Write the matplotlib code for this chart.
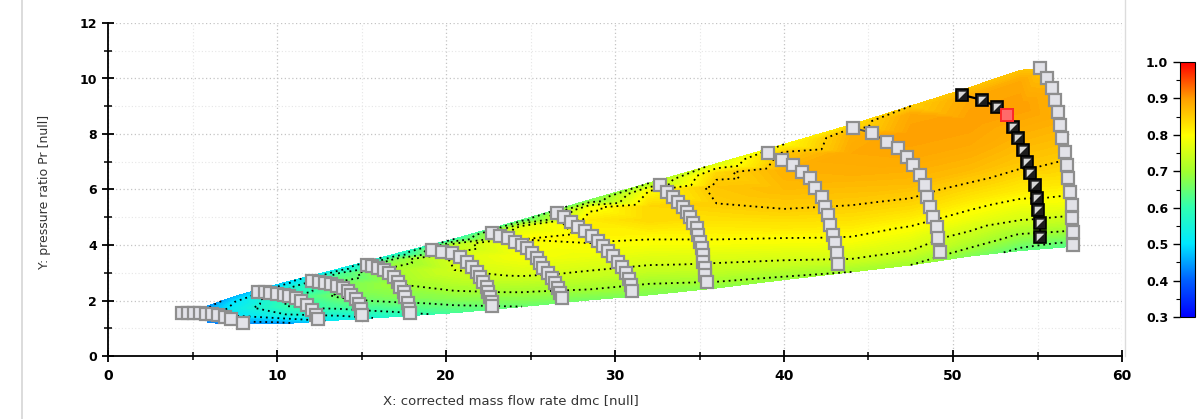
import numpy as np
import matplotlib
matplotlib.use("Agg")
import matplotlib.pyplot as plt
from matplotlib.colors import LinearSegmentedColormap, Normalize
from matplotlib.tri import Triangulation
from matplotlib.path import Path
from matplotlib.lines import Line2D
import matplotlib.colorbar as mcolorbar

# ---------------- speed lines (corrected mass flow, pressure ratio) ----------------
speed_x = [
    [4.4, 4.75, 5.1, 5.45, 5.8, 6.15, 6.5, 6.9, 7.3, 8.0],
    [8.9, 9.3, 9.6, 10.0, 10.4, 10.7, 11.1, 11.4, 11.8, 12.1, 12.3, 12.4],
    [12.1, 12.5, 12.85, 13.2, 13.55, 13.9, 14.2, 14.4, 14.65, 14.85, 14.95, 15.0],
    [15.3, 15.6, 16.0, 16.35, 16.6, 16.9, 17.15, 17.3, 17.5, 17.6, 17.75, 17.8, 17.85],
    [19.17, 19.76, 20.36, 20.83, 21.24, 21.54, 21.83, 22.01, 22.19, 22.43, 22.49, 22.6, 22.72, 22.72],
    [22.72, 23.2, 23.67, 24.08, 24.5, 24.79, 25.09, 25.38, 25.56, 25.74, 26.04, 26.27, 26.45, 26.63, 26.75, 26.86],
    [26.57, 26.98, 27.4, 27.81, 28.22, 28.64, 28.99, 29.29, 29.59, 29.88, 30.18, 30.41, 30.65, 30.83, 30.95, 31.01],
    [32.66, 33.08, 33.43, 33.73, 34.02, 34.26, 34.44, 34.62, 34.85, 34.91, 35.03, 35.15, 35.21, 35.21, 35.33, 35.33, 35.44],
    [39.05, 39.88, 40.53, 41.07, 41.54, 41.83, 42.25, 42.43, 42.6, 42.72, 42.9, 43.02, 43.14, 43.2],
    [44.08, 45.21, 46.09, 46.75, 47.28, 47.63, 48.05, 48.34, 48.46, 48.64, 48.82, 49.05, 49.11, 49.23],
    [50.53, 51.72, 52.6, 53.2, 53.55, 53.85, 54.14, 54.38, 54.56, 54.85, 54.97, 55.03, 55.15, 55.15],
    [55.15, 55.56, 55.86, 56.04, 56.21, 56.33, 56.45, 56.63, 56.75, 56.8, 56.92, 57.04, 57.04, 57.1, 57.1],
]
speed_y = [
    [1.55, 1.55, 1.55, 1.55, 1.53, 1.50, 1.47, 1.42, 1.35, 1.20],
    [2.31, 2.31, 2.27, 2.23, 2.20, 2.16, 2.09, 1.98, 1.84, 1.66, 1.48, 1.33],
    [2.70, 2.67, 2.63, 2.60, 2.52, 2.45, 2.34, 2.20, 2.05, 1.87, 1.69, 1.48],
    [3.28, 3.24, 3.17, 3.10, 2.99, 2.85, 2.67, 2.49, 2.31, 2.13, 1.91, 1.69, 1.55],
    [3.82, 3.75, 3.71, 3.57, 3.39, 3.21, 3.03, 2.85, 2.67, 2.49, 2.31, 2.13, 1.95, 1.80],
    [4.43, 4.32, 4.25, 4.11, 4.00, 3.89, 3.71, 3.53, 3.35, 3.17, 2.99, 2.81, 2.63, 2.45, 2.27, 2.09],
    [5.15, 5.01, 4.83, 4.65, 4.50, 4.32, 4.14, 3.96, 3.78, 3.60, 3.39, 3.21, 2.99, 2.77, 2.56, 2.34],
    [6.16, 5.91, 5.73, 5.55, 5.37, 5.19, 5.01, 4.80, 4.61, 4.36, 4.11, 3.89, 3.64, 3.39, 3.17, 2.92, 2.67],
    [7.32, 7.06, 6.88, 6.63, 6.41, 6.05, 5.73, 5.37, 5.08, 4.72, 4.36, 4.07, 3.71, 3.32],
    [8.22, 8.04, 7.71, 7.50, 7.17, 6.88, 6.52, 6.16, 5.73, 5.37, 5.01, 4.65, 4.25, 3.75],
    [9.41, 9.23, 8.97, 8.68, 8.25, 7.86, 7.42, 6.99, 6.59, 6.16, 5.69, 5.26, 4.79, 4.29],
    [10.38, 10.02, 9.66, 9.23, 8.79, 8.32, 7.86, 7.35, 6.88, 6.41, 5.91, 5.44, 4.97, 4.47, 4.00],
]
selected_line = 10      # highlighted speed line
selected_point = 3      # highlighted operating point on it

# ---------------- isentropic efficiency field samples ----------------
field_col_x = [5.9, 7.5, 10.5, 13.7, 17.0, 20.5, 24.5, 28.5, 32.0, 36.0, 40.0, 44.0, 47.5, 51.0, 54.0]
field_col_y = [
    [1.80, 1.50, 1.20],
    [2.15, 1.95, 1.70, 1.45, 1.16],
    [2.66, 2.45, 2.10, 1.80, 1.50, 1.17],
    [3.15, 2.95, 2.60, 2.20, 1.80, 1.30],
    [3.68, 3.45, 3.10, 2.60, 2.10, 1.70, 1.42],
    [4.22, 4.00, 3.60, 3.10, 2.60, 2.10, 1.56],
    [4.91, 4.65, 4.20, 3.60, 3.00, 2.40, 1.78],
    [5.63, 5.35, 4.90, 4.30, 3.60, 2.90, 2.40, 2.02],
    [6.23, 5.95, 5.40, 4.90, 4.40, 3.80, 3.10, 2.60, 2.20],
    [6.93, 6.60, 6.10, 5.50, 4.90, 4.20, 3.50, 2.90, 2.45],
    [7.63, 7.30, 6.70, 6.00, 5.30, 4.60, 3.90, 3.30, 2.75],
    [8.34, 8.00, 7.30, 6.50, 5.70, 4.90, 4.10, 3.50, 3.03],
    [9.01, 8.70, 8.00, 7.10, 6.20, 5.30, 4.50, 3.80, 3.28],
    [9.68, 9.30, 8.50, 7.60, 6.70, 5.80, 4.90, 4.10, 3.60],
    [10.30, 9.90, 9.00, 8.00, 7.00, 6.00, 5.00, 4.30, 3.80],
]
field_col_eta = [
    [0.44, 0.48, 0.42],
    [0.46, 0.50, 0.52, 0.50, 0.43],
    [0.48, 0.54, 0.60, 0.60, 0.55, 0.44],
    [0.52, 0.62, 0.66, 0.66, 0.62, 0.52],
    [0.56, 0.68, 0.71, 0.70, 0.67, 0.62, 0.57],
    [0.60, 0.73, 0.76, 0.75, 0.72, 0.68, 0.62],
    [0.63, 0.77, 0.80, 0.79, 0.76, 0.71, 0.65],
    [0.66, 0.79, 0.82, 0.81, 0.78, 0.74, 0.70, 0.66],
    [0.70, 0.80, 0.84, 0.84, 0.81, 0.78, 0.74, 0.70, 0.67],
    [0.76, 0.84, 0.86, 0.85, 0.83, 0.80, 0.76, 0.72, 0.68],
    [0.80, 0.86, 0.88, 0.87, 0.85, 0.82, 0.78, 0.74, 0.69],
    [0.83, 0.88, 0.89, 0.88, 0.86, 0.83, 0.79, 0.75, 0.70],
    [0.85, 0.89, 0.90, 0.89, 0.87, 0.835, 0.79, 0.75, 0.70],
    [0.86, 0.89, 0.90, 0.89, 0.87, 0.83, 0.78, 0.72, 0.67],
    [0.86, 0.89, 0.90, 0.88, 0.86, 0.82, 0.76, 0.69, 0.64],
]
# choke-side edge of the field (along the last speed line)
edge_x = [55.2, 55.9, 56.3, 56.6, 56.8, 57.0, 57.05, 57.1]
edge_y = [10.35, 9.6, 8.4, 7.4, 6.4, 5.4, 4.6, 3.95]
edge_eta = [0.86, 0.88, 0.88, 0.86, 0.83, 0.78, 0.71, 0.63]

contour_levels = [0.45, 0.50, 0.55, 0.60, 0.65, 0.70, 0.75, 0.80, 0.85]
eta_min, eta_max = 0.3, 1.0

x_ticks = [0, 10, 20, 30, 40, 50, 60]
y_ticks = [0, 2, 4, 6, 8, 10, 12]
cbar_ticks = [0.3, 0.4, 0.5, 0.6, 0.7, 0.8, 0.9, 1.0]

# ---------------- figure ----------------
W, H = 1198, 419
fig = plt.figure(figsize=(W / 100, H / 100), dpi=100)
fig.patch.set_facecolor("white")
ax = fig.add_axes([108 / W, 1 - 356 / H, (1122 - 108) / W, (356 - 23) / H])

cmap = LinearSegmentedColormap.from_list(
    "eff",
    [(0.0, "#0000ff"), (0.143, "#0060ff"), (0.286, "#00e8ff"), (0.429, "#30ffb0"),
     (0.571, "#a0ff30"), (0.714, "#ffff00"), (0.857, "#ffa000"), (1.0, "#ff0000")])
norm = Normalize(eta_min, eta_max)

# assemble the field points
fx, fy, fe = [], [], []
for cx, cy, ce in zip(field_col_x, field_col_y, field_col_eta):
    fx += [cx] * len(cy)
    fy += cy
    fe += ce
fx += edge_x
fy += edge_y
fe += edge_eta
fx, fy, fe = np.array(fx), np.array(fy), np.array(fe)

# outline of the mapped region: surge side, choke side, bottom
outline = [(cx, cy[0]) for cx, cy in zip(field_col_x, field_col_y)]
outline += list(zip(edge_x, edge_y))
outline += [(cx, cy[-1]) for cx, cy in zip(field_col_x[::-1], field_col_y[::-1])]
region = Path(outline + [outline[0]], closed=True)

tri = Triangulation(fx, fy)
cent = np.column_stack([fx[tri.triangles].mean(axis=1), fy[tri.triangles].mean(axis=1)])
tri.set_mask(~region.contains_points(cent, radius=1e-6))

ax.tricontourf(tri, fe, levels=np.linspace(eta_min, eta_max, 141), cmap=cmap, norm=norm, zorder=1)
ax.tricontour(tri, fe, levels=contour_levels, colors="black",
              linestyles=[(0, (1, 2.2))], linewidths=1.3, zorder=2)

# speed lines with their operating points
for i, (sx, sy) in enumerate(zip(speed_x, speed_y)):
    if i == selected_line:
        ax.plot(sx, sy, color="black", lw=1.6, zorder=3)
        ax.plot(sx, sy, ls="none", marker="s", ms=9, mfc="#1c1c1c", mec="black", mew=1.2, zorder=4)
        ax.plot(sx, sy, ls="none", marker=[(-1, -1), (1, 1), (-1, 1)], ms=5.5,
                mfc="#d8d8d8", mec="none", zorder=5)
        ax.plot(sx[selected_point], sy[selected_point], ls="none", marker="s", ms=9,
                mfc="#ff6a6a", mec="#ff2a2a", mew=1.4, zorder=6)
    else:
        ax.plot(sx, sy, color="#555555", lw=1.4, zorder=3)
        ax.plot(sx, sy, ls="none", marker="s", ms=9, mfc="#e2e2e8", mec="#8e8e8e", mew=1.6, zorder=4)

# axes styling
ax.set_xlim(0, 60)
ax.set_ylim(0, 12)
ax.set_xticks(x_ticks)
ax.set_yticks(y_ticks)
ax.set_xticks(np.arange(5, 60, 10), minor=True)
ax.set_yticks(np.arange(1, 12, 2), minor=True)
ax.set_axisbelow(True)
ax.grid(True, which="major", color="#c4c4c4", ls=(0, (1, 2)), lw=0.9)
ax.grid(True, which="minor", color="#e6e6e6", ls=(0, (1, 2)), lw=0.8)
for s in ("top", "right"):
    ax.spines[s].set_visible(False)
for s in ("left", "bottom"):
    ax.spines[s].set_linewidth(1.3)
ax.tick_params(which="major", direction="inout", length=9, width=1.3, colors="black")
ax.tick_params(which="minor", direction="inout", length=6, width=1.1)
for lab in ax.get_xticklabels():
    lab.set_fontfamily(["Liberation Sans Narrow", "DejaVu Sans"])
    lab.set_fontweight("bold")
    lab.set_fontsize(10)
for lab in ax.get_yticklabels():
    lab.set_fontweight("bold")
    lab.set_fontsize(9)
ax.tick_params(axis="x", pad=5)

fig.text(511 / W, 1 - 401 / H, "X: corrected mass flow rate dmc [null]",
         ha="center", va="center", fontsize=9.5, color="#333333",
         family=["Liberation Sans Narrow", "DejaVu Sans"])
fig.text(45 / W, 1 - 192 / H, "Y: pressure ratio Pr [null]", rotation=90,
         ha="center", va="center", fontsize=9, color="#333333")

# colour scale
cax = fig.add_axes([1180 / W, 1 - 317 / H, 15 / W, (317 - 62) / H])
cb = mcolorbar.ColorbarBase(cax, cmap=cmap, norm=norm, ticks=cbar_ticks)
cb.outline.set_linewidth(0.8)
cax.yaxis.set_ticks_position("left")
cax.yaxis.set_label_position("left")
cax.set_yticklabels([f"{t:.1f}" for t in cbar_ticks], fontweight="bold", fontsize=9)
cax.set_yticks(np.arange(0.35, 1.0, 0.1), minor=True)
cax.tick_params(which="major", direction="out", length=5, width=1.0)
cax.tick_params(which="minor", direction="out", length=3, width=0.8)

# panel borders
fig.add_artist(Line2D([22 / W, 22 / W], [0, 1], color="#d6d6d6", lw=1.2))
fig.add_artist(Line2D([1125 / W, 1125 / W], [1 - 356 / H, 1], color="#dcdcdc", lw=1.0))

fig.savefig("out.png", dpi=100)
